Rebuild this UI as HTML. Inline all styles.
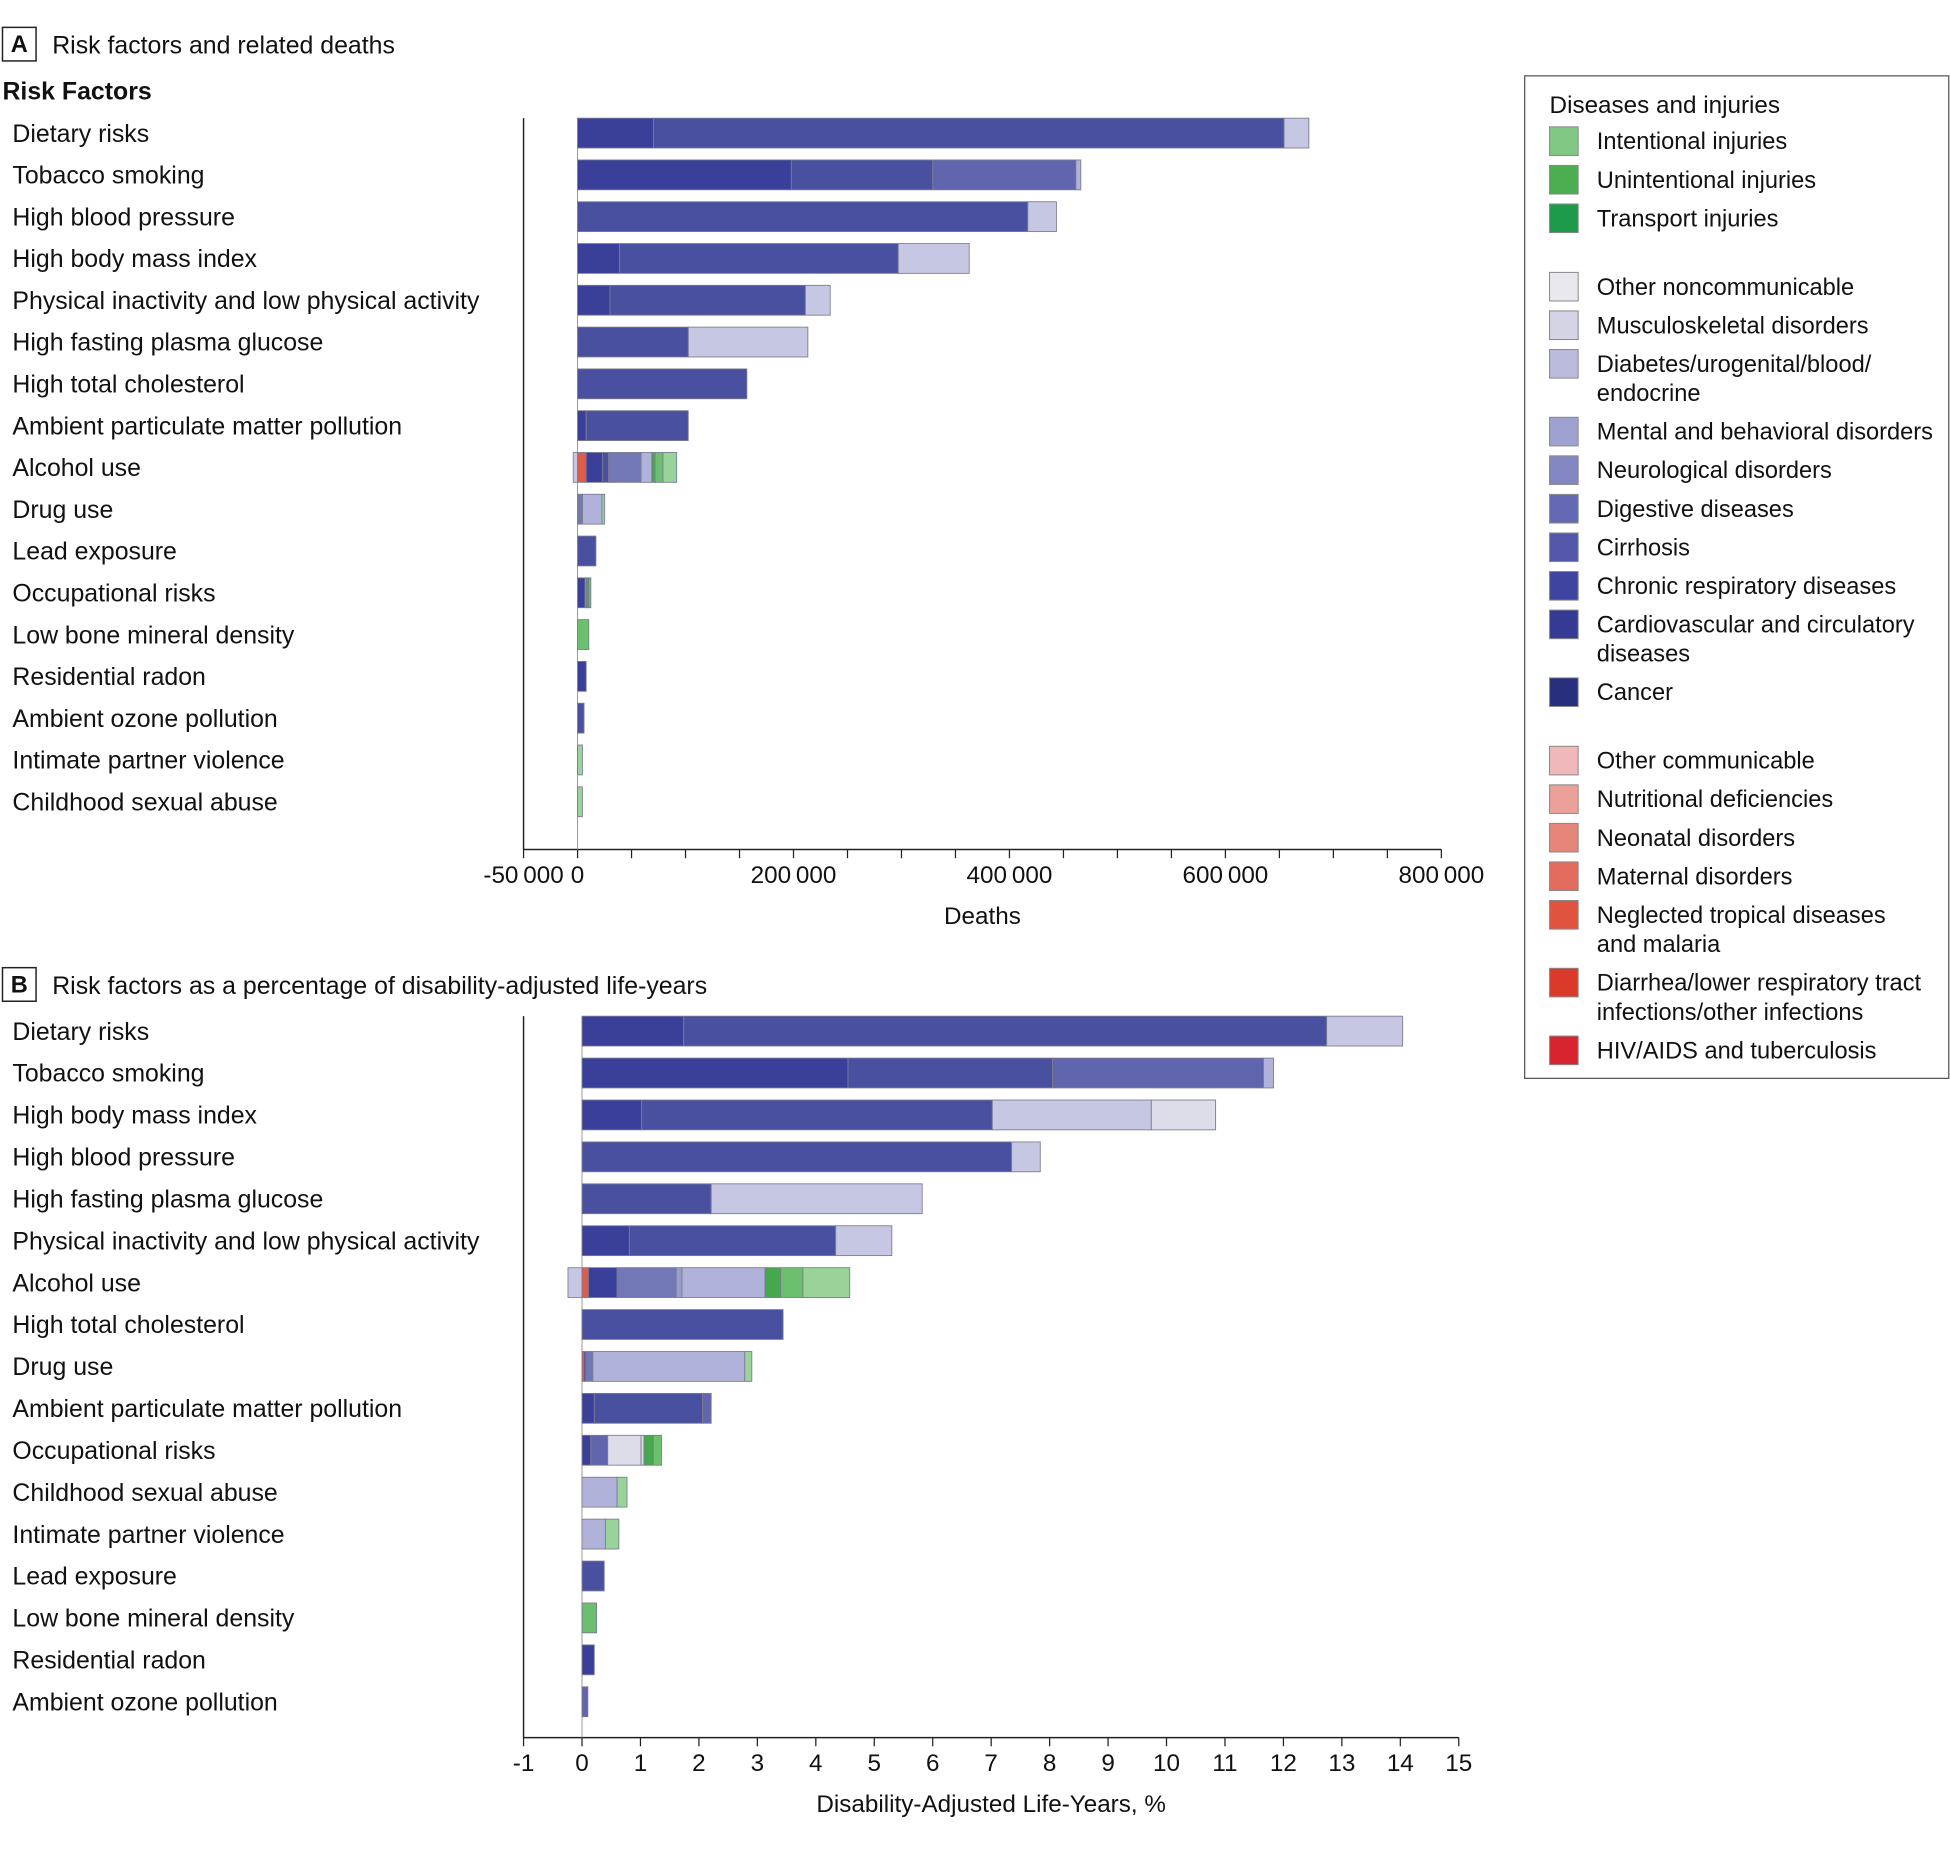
<!DOCTYPE html>
<html><head><meta charset="utf-8"><style>
html,body{margin:0;padding:0;background:#fff;}
svg{display:block;font-family:"Liberation Sans",sans-serif;}
</style></head><body>
<svg id="chart" width="1950" height="1852" viewBox="0 0 1568 1489" preserveAspectRatio="none" xmlns="http://www.w3.org/2000/svg"></svg>
<script>
// ---- Data ----
const colorOf = {
  intentional:'#99d39a', unintentional:'#6cbf6f', transport:'#46a84c',
  otherNCD:'#dcdde9', musculo:'#c6c7e2', diabetes:'#b0b2d9', mental:'#9a9dcc',
  neuro:'#7277b6', digestive:'#6065ae', cirrhosis:'#4a50a0', cardio:'#4a50a0', resp:'#3a3f9a', cancer:'#3a3f9a',
  neonatal:'#e05c4a', brown:'#9a6050'
};
const categoriesA = ["Dietary risks","Tobacco smoking","High blood pressure","High body mass index","Physical inactivity and low physical activity","High fasting plasma glucose","High total cholesterol","Ambient particulate matter pollution","Alcohol use","Drug use","Lead exposure","Occupational risks","Low bone mineral density","Residential radon","Ambient ozone pollution","Intimate partner violence","Childhood sexual abuse"];
const valuesA = [
  [[70300,'cancer'],[584000,'cardio'],[23000,'musculo']],
  [[198000,'cancer'],[131000,'cardio'],[132500,'digestive'],[4600,'diabetes']],
  [[417000,'cardio'],[26500,'musculo']],
  [[39000,'cancer'],[258000,'cardio'],[65700,'musculo']],
  [[30000,'cancer'],[181000,'cardio'],[23000,'musculo']],
  [[102600,'cardio'],[110700,'musculo']],
  [[156800,'cardio']],
  [[8000,'cancer'],[94500,'cardio']],
  [[8000,'neonatal'],[15000,'cancer'],[5800,'cardio'],[30000,'neuro'],[10000,'diabetes'],[3000,'transport'],[7300,'unintentional'],[12700,'intentional']],
  [[600,'brown'],[4000,'neuro'],[18000,'diabetes'],[2500,'intentional']],
  [[17000,'cardio']],
  [[7000,'cancer'],[1000,'otherNCD'],[2300,'transport'],[2000,'unintentional']],
  [[10400,'unintentional']],
  [[8000,'cancer']],
  [[6000,'cardio']],
  [[4500,'intentional']],
  [[4500,'intentional']]
];
const negativesA = [0,0,0,0,0,0,0,0,-4000,0,0,0,0,0,0,0,0];
const ticksA = [-50000,0,200000,400000,600000,800000];

const categoriesB = ["Dietary risks","Tobacco smoking","High body mass index","High blood pressure","High fasting plasma glucose","Physical inactivity and low physical activity","Alcohol use","High total cholesterol","Drug use","Ambient particulate matter pollution","Occupational risks","Childhood sexual abuse","Intimate partner violence","Lead exposure","Low bone mineral density","Residential radon","Ambient ozone pollution"];
const valuesB = [
  [[1.74,'cancer'],[11.0,'cardio'],[1.3,'musculo']],
  [[4.55,'cancer'],[3.5,'cardio'],[3.61,'digestive'],[0.17,'diabetes']],
  [[1.02,'cancer'],[6.0,'cardio'],[2.72,'musculo'],[1.1,'otherNCD']],
  [[7.35,'cardio'],[0.49,'musculo']],
  [[2.21,'cardio'],[3.61,'musculo']],
  [[0.81,'cancer'],[3.53,'cardio'],[0.96,'musculo']],
  [[0.11,'neonatal'],[0.49,'cancer'],[1.01,'neuro'],[0.1,'mental'],[1.42,'diabetes'],[0.27,'transport'],[0.38,'unintentional'],[0.8,'intentional']],
  [[3.44,'cardio']],
  [[0.035,'neonatal'],[0.03,'cancer'],[0.12,'neuro'],[2.6,'diabetes'],[0.12,'intentional']],
  [[0.21,'cancer'],[1.85,'cardio'],[0.15,'digestive']],
  [[0.15,'cancer'],[0.29,'digestive'],[0.57,'otherNCD'],[0.05,'otherNCD'],[0.16,'transport'],[0.14,'unintentional']],
  [[0.6,'diabetes'],[0.17,'intentional']],
  [[0.4,'diabetes'],[0.23,'intentional']],
  [[0.38,'cardio']],
  [[0.25,'unintentional']],
  [[0.21,'cancer']],
  [[0.1,'digestive']]
];
const negativesB = [0,0,0,0,0,0,-0.24,0,0,0,0,0,0,0,0,0,0];
const ticksB = [-1,0,1,2,3,4,5,6,7,8,9,10,11,12,13,14,15];

const legendLabels = [
 ["Intentional injuries",'#80c883'],["Unintentional injuries",'#4cae50'],["Transport injuries",'#1e9b4a'],null,
 ["Other noncommunicable",'#e8e8ee'],["Musculoskeletal disorders",'#d4d4e6'],["Diabetes/urogenital/blood/|endocrine",'#b9badc'],
 ["Mental and behavioral disorders",'#9fa2d0'],["Neurological disorders",'#8286c2'],["Digestive diseases",'#6469b4'],["Cirrhosis",'#5257aa'],
 ["Chronic respiratory diseases",'#3f44a0'],["Cardiovascular and circulatory|diseases",'#353a94'],["Cancer",'#28307e'],null,
 ["Other communicable",'#f0b8b8'],["Nutritional deficiencies",'#eba09a'],["Neonatal disorders",'#e6857a'],["Maternal disorders",'#e36c5e'],
 ["Neglected tropical diseases|and malaria",'#e0533f'],["Diarrhea/lower respiratory tract|infections/other infections",'#db3a2a'],["HIV/AIDS and tuberculosis",'#d7242e']
];

// ---- Drawing ----
const svg = document.getElementById('chart');
const NS = 'http://www.w3.org/2000/svg';
function mk(tag, attrs, parent){ const e=document.createElementNS(NS,tag); for(const k in attrs) e.setAttribute(k,attrs[k]); (parent||svg).appendChild(e); return e; }
function txt(s,x,y,size,extra,parent){ const t=mk('text',Object.assign({x:x,y:y,'font-size':size,fill:'#111'},extra||{}),parent); t.textContent=s; return t; }

function panel(opts){
  const {cats, vals, negs, ticks, x0px, x0val, x1px, x1val, yTop, yAxis, rowStep, minorStep, fmt, title, name} = opts;
  const g = mk('g',{});
  
  
  const sx = v => x0px + (v - x0val) * (x1px - x0px) / (x1val - x0val);
  const ZERO = sx(0);
  const ax = mk('line',{x1:x0px,y1:yTop-12,x2:x0px,y2:yAxis,stroke:'#222','stroke-width':1.2},g);
  
  
  const hx = mk('line',{x1:x0px,y1:yAxis,x2:x1px,y2:yAxis,stroke:'#222','stroke-width':1.2},g);
  
  
  mk('line',{x1:ZERO,y1:yTop-12,x2:ZERO,y2:yAxis,stroke:'#999','stroke-width':0.8},g);
  for(let v=x0val; v<=x1val+1e-9; v+=minorStep){
    mk('line',{x1:sx(v),y1:yAxis,x2:sx(v),y2:yAxis+7,stroke:'#222','stroke-width':1},g);
  }
  ticks.forEach(v=>{
    const t = txt(fmt(v), sx(v), yAxis+27, 19.5, {'text-anchor':'middle'}, g);
    
    
  });
  const at = txt(title, (x0px+x1px)/2, yAxis+60, 19.5, {'text-anchor':'middle'}, g);
  
  
  cats.forEach((c,i)=>{
    const cy = yTop + i*rowStep;
    const lt = txt(c, 10, cy+7, 20, {}, g);
    
    
    const h = 24, y = cy - h/2;
    if(negs[i] < 0){
      const r = mk('rect',{x:sx(negs[i]),y:y,width:ZERO-sx(negs[i]),height:h,fill:'#c6c7e2',stroke:'#8a8ca0','stroke-width':0.8},g);
      
      
    }
    let acc = 0;
    vals[i].forEach(([v,k])=>{
      const xa = sx(acc), xb = sx(acc+v);
      const r = mk('rect',{x:xa,y:y,width:Math.max(0.5,xb-xa),height:h,fill:colorOf[k],stroke:'#7a7c90','stroke-width':0.7},g);
      
      
      acc += v;
    });
  });
}

const boxA = mk('rect',{x:2,y:22,width:27,height:27,fill:'none',stroke:'#222','stroke-width':1.2});


txt('A',15.5,42,19,{'text-anchor':'middle','font-weight':'bold'});
const hA = txt('Risk factors and related deaths',42,43,20);


const rf = txt('Risk Factors',2,80,20,{'font-weight':'bold'});



const boxB = mk('rect',{x:2,y:778,width:27,height:27,fill:'none',stroke:'#222','stroke-width':1.2});


txt('B',15.5,798,19,{'text-anchor':'middle','font-weight':'bold'});
const hB = txt('Risk factors as a percentage of disability-adjusted life-years',42,799,20);



panel({cats:categoriesA, vals:valuesA, negs:negativesA, ticks:ticksA, x0px:421, x0val:-50000, x1px:1159, x1val:800000,
  yTop:107, yAxis:683, rowStep:33.6, minorStep:50000, fmt:v=>v===0?'0':(v<0?'-':'')+String(Math.abs(v)).replace(/(\d)(?=(\d{3})+$)/g,'$1\u2009'),
  title:'Deaths', name:'panel-a-deaths-chart'});
panel({cats:categoriesB, vals:valuesB, negs:negativesB, ticks:ticksB, x0px:421, x0val:-1, x1px:1173, x1val:15,
  yTop:829, yAxis:1397, rowStep:33.7, minorStep:1, fmt:v=>String(v),
  title:'Disability-Adjusted Life-Years, %', name:'panel-b-daly-chart'});

const lg = mk('g',{});


mk('rect',{x:1226,y:61,width:341,height:806,fill:'#fff',stroke:'#555','stroke-width':1},lg);
txt('Diseases and injuries',1246,91,19.5,{},lg);
let ly = 113;
legendLabels.forEach(item=>{
  if(!item){ ly += 24; return; }
  const [lab,col] = item;
  const lines = lab.split('|');
  const sw = mk('rect',{x:1246,y:ly-11,width:23,height:23,fill:col,stroke:'#888','stroke-width':0.8},lg);
  
  
  lines.forEach((l,j)=>{
    const t = txt(l,1284,ly+7+j*23.5,19,{},lg);
    
    
  });
  ly += 31 + (lines.length-1)*23.5;
});
</script>
</body></html>
